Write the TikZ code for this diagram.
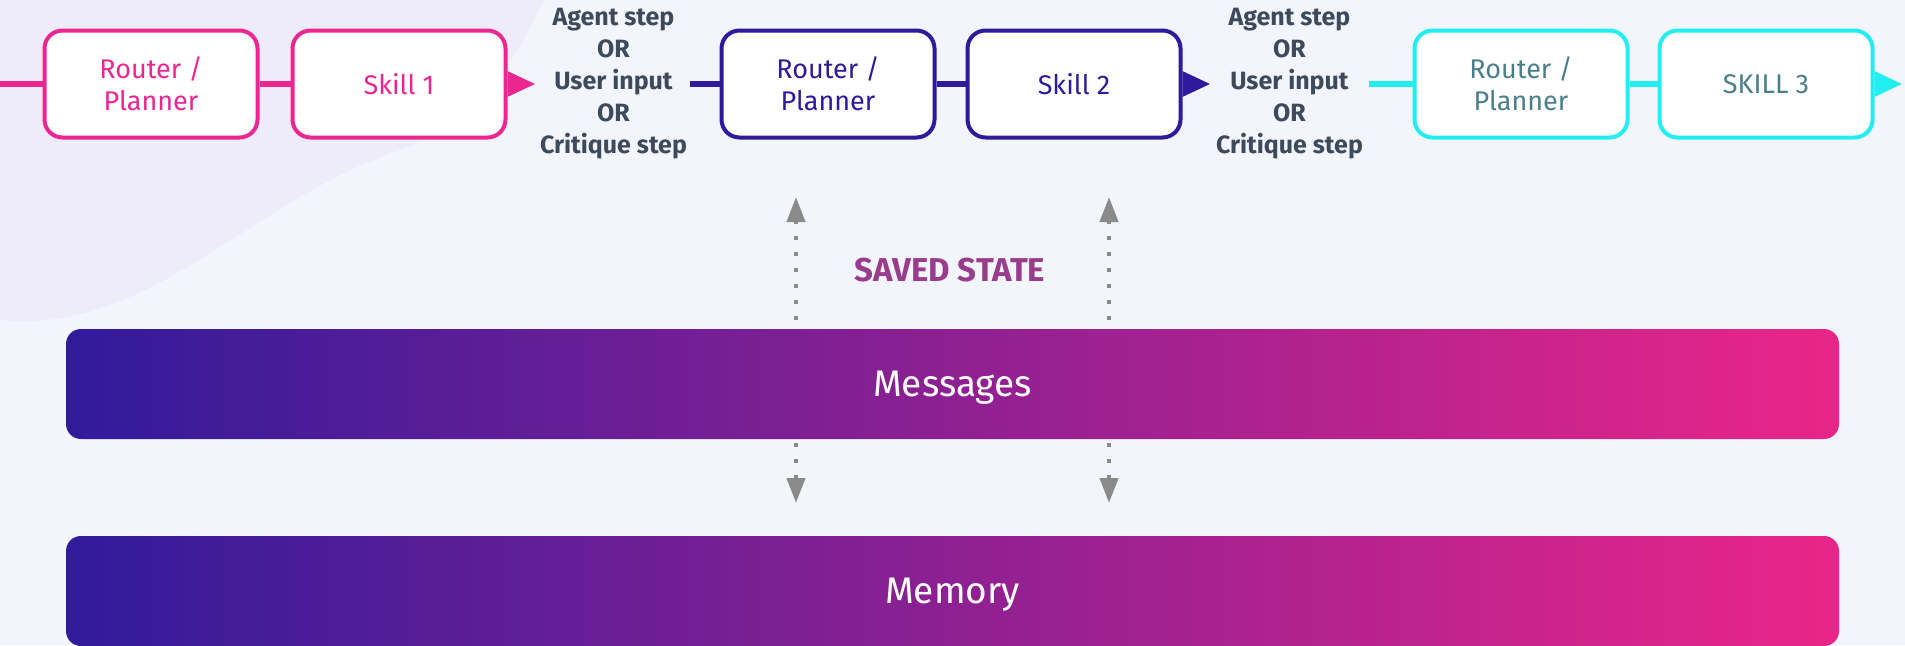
\documentclass[tikz,border=0pt]{standalone}
\usepackage{fontspec}
\setmainfont{Fira Sans}
\usetikzlibrary{positioning, arrows.meta}

\definecolor{flowpink}{HTML}{EC2690}
\definecolor{flowblue}{HTML}{2E1A9A}
\definecolor{flowcyan}{HTML}{22EEF2}
\definecolor{cyantext}{HTML}{4A7E8A}
\definecolor{stepgray}{HTML}{3D4A5C}
\definecolor{savedpurple}{HTML}{993C8C}
\definecolor{barleft}{HTML}{311B9B}
\definecolor{barright}{HTML}{EA2589}
\definecolor{pagebg}{HTML}{F3F5FC}
\definecolor{blobbg}{HTML}{EEECF9}
\definecolor{dotgray}{HTML}{8A8A8A}

\tikzset{every node/.style={align=center},
  box/.style={draw, fill=white, rounded corners=18pt, line width=4pt, minimum width=213pt, minimum height=107pt, font=\fontsize{27}{32}\selectfont},
  link/.style={line width=6pt},
  tip/.style={-{Triangle[length=28pt,width=24pt]}},
  steps/.style={font=\fontsize{25}{32}\selectfont\bfseries, text=stepgray},
  bar/.style={rounded corners=15pt, left color=barleft, right color=barright, minimum width=1773pt, minimum height=110pt, text=white, text depth=0pt, font=\fontsize{37}{40}\selectfont},
  saved/.style={draw=dotgray, line width=4pt, dash pattern=on 4pt off 12pt, -{Triangle[length=25pt,width=18pt]}}}

\begin{document}
\begin{tikzpicture}[x=1pt, y=-1pt]
    \useasboundingbox (0,0) rectangle (1905,645);
    \fill[pagebg] (0,0) rectangle (1905,645);
    \fill[blobbg] (0,320) .. controls (150,335) and (250,200) .. (400,150)
        .. controls (500,110) and (520,40) .. (545,0) -- (0,0) -- cycle;

    % skill chain
    \node [box, draw=flowpink, text=flowpink] (rp1) at (151,84) {Router /\\Planner};
    \node [box, draw=flowpink, text=flowpink] (sk1) [right=31pt of rp1] {Skill 1};
    \node [box, draw=flowblue, text=flowblue] (rp2) [right=212pt of sk1] {Router /\\Planner};
    \node [box, draw=flowblue, text=flowblue] (sk2) [right=29pt of rp2] {Skill 2};
    \node [box, draw=flowcyan, text=cyantext] (rp3) [right=230pt of sk2] {Router /\\Planner};
    \node [box, draw=flowcyan, text=cyantext] (sk3) [right=28pt of rp3] {SKILL 3};

    \path (sk1) -- node [steps] (stepA) {Agent step\\OR\\User input\\OR\\Critique step} (rp2);
    \path (sk2) -- node [steps, pos=0.465] (stepB) {Agent step\\OR\\User input\\OR\\Critique step} (rp3);

    \coordinate (inA) at (0,84);
    \coordinate [left=30pt of rp2] (inB);
    \coordinate [left=44pt of rp3] (inC);
    \coordinate [right=28pt of sk1] (tipA);
    \coordinate [right=28pt of sk2] (tipB);
    \coordinate [right=28pt of sk3] (tipC);

    \draw[link, flowpink] (inA) -- (rp1) (rp1) -- (sk1);
    \draw[link, flowpink, tip] (sk1) -- (tipA);
    \draw[link, flowblue] (inB) -- (rp2) (rp2) -- (sk2);
    \draw[link, flowblue, tip] (sk2) -- (tipB);
    \draw[link, flowcyan] (inC) -- (rp3) (rp3) -- (sk3);
    \draw[link, flowcyan, tip] (sk3) -- (tipC);

    % state bars
    \node [bar] (msgs) at (952.5,384) {Messages};
    \node [bar] (mem) at (952.5,591) {Memory};
    \node [font=\fontsize{33}{36}\selectfont\bfseries, text=savedpurple] (savedlbl) at (950,270) {SAVED STATE};

    \coordinate (upA) at (796,197);
    \coordinate (upB) at (1109,197);
    \coordinate (downA) at (796,503);
    \coordinate (downB) at (1109,503);
    \draw[saved, shorten <=9pt] (upA |- msgs.north) -- (upA);
    \draw[saved, shorten <=9pt] (upB |- msgs.north) -- (upB);
    \draw[saved, shorten <=4pt] (downA |- msgs.south) -- (downA);
    \draw[saved, shorten <=4pt] (downB |- msgs.south) -- (downB);
\end{tikzpicture}
\end{document}
